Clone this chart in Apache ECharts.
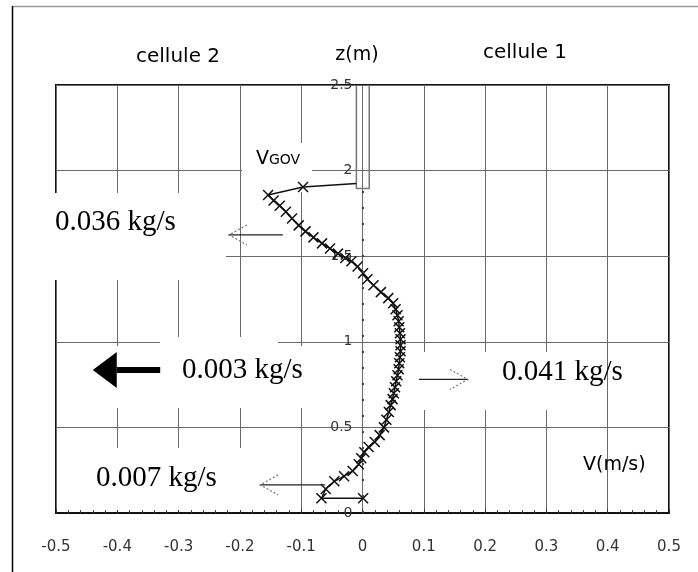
<!DOCTYPE html>
<html><head><meta charset="utf-8">
<script src="https://cdn.jsdelivr.net/npm/echarts@6/dist/echarts.min.js"></script>
<style>html,body{margin:0;padding:0;background:#fff}#c{width:698px;height:572px}</style>
</head><body><div id="c"></div>
<script>
// ---- data ----
// velocity profile V(m/s) at height z(m); first point joins the wall (no marker)
const curveV = [-0.010, -0.097, -0.154, -0.145, -0.135, -0.125, -0.115, -0.104, -0.093, -0.080, -0.066, -0.053, -0.040, -0.028, -0.018, -0.008, 0.001, 0.008, 0.018, 0.030, 0.042, 0.050, 0.054, 0.057, 0.059, 0.060, 0.061, 0.062, 0.062, 0.062, 0.061, 0.060, 0.059, 0.057, 0.055, 0.053, 0.051, 0.049, 0.046, 0.043, 0.039, 0.035, 0.028, 0.020, 0.010, 0.003, -0.002, -0.006, -0.016, -0.030, -0.046, -0.060, -0.067, 0.001];
const curveZ = [1.925, 1.904, 1.857, 1.825, 1.795, 1.760, 1.720, 1.680, 1.645, 1.610, 1.575, 1.545, 1.515, 1.490, 1.470, 1.440, 1.400, 1.365, 1.330, 1.290, 1.255, 1.225, 1.190, 1.155, 1.120, 1.085, 1.050, 1.015, 0.980, 0.945, 0.910, 0.875, 0.840, 0.805, 0.770, 0.735, 0.700, 0.665, 0.630, 0.590, 0.545, 0.500, 0.455, 0.415, 0.385, 0.355, 0.320, 0.285, 0.245, 0.215, 0.185, 0.140, 0.086, 0.086];
// wall between the two cells
const wallV = [-0.010, -0.010, 0.011, 0.011];
const wallZ = [2.5, 1.895, 1.895, 2.5];
// dotted reference line at V = 0
const refLineZ = [0, 1.89];
// mass flow annotations
const flowLabels = ['0.036 kg/s', '0.003 kg/s', '0.041 kg/s', '0.007 kg/s'];
const arrowTailV = [-0.130, -0.330, 0.092, -0.061];
const arrowTipV = [-0.218, -0.440, 0.172, -0.167];
const arrowZ = [1.624, 0.835, 0.780, 0.164];
const arrowBold = [0, 1, 0, 0];
// axes
const vMin = -0.5, vMax = 0.5, vStep = 0.1;
const zMin = 0, zMax = 2.5, zStep = 0.5;

// ---- chart ----
const chart = echarts.init(document.getElementById('c'), null, {renderer: 'canvas'});
const sans = 'DejaVu Sans';

const curveData = curveV.map((v, i) => i === 0 ? {value: [v, curveZ[i]], symbol: 'none'} : [v, curveZ[i]]);
const wallData = wallV.map((v, i) => [v, wallZ[i]]);
const arrowData = flowLabels.map((l, i) => [arrowTailV[i], arrowTipV[i], arrowZ[i], arrowBold[i]]);

const gridLeft = 56, gridRight = 29;
const plotW = 698 - gridLeft - gridRight;
const zeroOffset = -plotW * (0 - vMin) / (vMax - vMin);

const option = {
  animation: false,
  backgroundColor: '#fff',
  grid: {left: gridLeft, right: gridRight, top: 85, bottom: 59, show: true, borderColor: '#111', borderWidth: 2, backgroundColor: 'transparent'},
  xAxis: {
    type: 'value', min: vMin, max: vMax, interval: vStep,
    axisLine: {onZero: false, lineStyle: {color: '#111', width: 2}},
    axisTick: {show: true, inside: true, length: 4, lineStyle: {color: '#333'}},
    minorTick: {show: true, splitNumber: 5, length: 3, lineStyle: {color: '#444'}},
    axisLabel: {margin: 27, color: '#333', fontSize: 15, fontFamily: sans},
    splitLine: {show: true, lineStyle: {color: '#6a6a6a', width: 1}}
  },
  yAxis: {
    type: 'value', min: zMin, max: zMax, interval: zStep,
    position: 'left', offset: zeroOffset,
    axisLine: {show: false, onZero: false},
    axisTick: {show: false},
    axisLabel: {margin: 10, color: '#333', fontSize: 14, fontFamily: sans},
    splitLine: {show: true, lineStyle: {color: '#6a6a6a', width: 1}}
  },
  graphic: [
    {type: 'line', z: 1, shape: {x1: 12, y1: 6.5, x2: 698, y2: 6.5}, style: {stroke: '#999', lineWidth: 1.5}},
    {type: 'line', z: 1, shape: {x1: 12.5, y1: 6, x2: 12.5, y2: 572}, style: {stroke: '#000', lineWidth: 1.5}},
    // white patches under the pasted annotations
    {type: 'rect', z: 1, shape: {x: 242, y: 143, width: 88, height: 24}, style: {fill: '#fff'}},
    {type: 'rect', z: 1, shape: {x: 242, y: 167, width: 70, height: 25}, style: {fill: '#fff'}},
    {type: 'rect', z: 1, shape: {x: 40, y: 193, width: 186, height: 87}, style: {fill: '#fff'}},
    {type: 'rect', z: 1, shape: {x: 58, y: 346, width: 104, height: 62}, style: {fill: '#fff'}},
    {type: 'rect', z: 1, shape: {x: 160, y: 337, width: 118, height: 71}, style: {fill: '#fff'}},
    {type: 'rect', z: 1, shape: {x: 278, y: 346, width: 40, height: 62}, style: {fill: '#fff'}},
    {type: 'rect', z: 1, shape: {x: 414, y: 352, width: 190, height: 58}, style: {fill: '#fff'}},
    {type: 'rect', z: 1, shape: {x: 60, y: 448, width: 190, height: 62}, style: {fill: '#fff'}},
    // titles
    {type: 'text', z: 10, x: 178, y: 57, style: {text: 'cellule 2', font: '20px "DejaVu Sans"', fill: '#000', textAlign: 'center', textVerticalAlign: 'middle'}},
    {type: 'text', z: 10, x: 357, y: 55, style: {text: 'z(m)', font: '19px "DejaVu Sans"', fill: '#000', textAlign: 'center', textVerticalAlign: 'middle'}},
    {type: 'text', z: 10, x: 525, y: 53, style: {text: 'cellule 1', font: '20px "DejaVu Sans"', fill: '#000', textAlign: 'center', textVerticalAlign: 'middle'}},
    {type: 'text', z: 10, x: 583, y: 465, style: {text: 'V(m/s)', font: '19px "DejaVu Sans"', fill: '#000', textAlign: 'left', textVerticalAlign: 'middle'}},
    {type: 'text', z: 10, x: 256, y: 159, style: {text: '{a|V}{b|GOV}', textAlign: 'left', textVerticalAlign: 'middle',
      rich: {a: {fontSize: 19, fontFamily: sans, color: '#111'}, b: {fontSize: 14, fontFamily: sans, color: '#111', padding: [3, 0, 0, 0]}}}},
    // flow labels
    {type: 'text', z: 10, x: 55, y: 222, style: {text: flowLabels[0], font: '29px "Liberation Serif"', fill: '#000', textAlign: 'left', textVerticalAlign: 'middle'}},
    {type: 'text', z: 10, x: 182, y: 370, style: {text: flowLabels[1], font: '29px "Liberation Serif"', fill: '#000', textAlign: 'left', textVerticalAlign: 'middle'}},
    {type: 'text', z: 10, x: 502, y: 372, style: {text: flowLabels[2], font: '29px "Liberation Serif"', fill: '#000', textAlign: 'left', textVerticalAlign: 'middle'}},
    {type: 'text', z: 10, x: 96, y: 478, style: {text: flowLabels[3], font: '29px "Liberation Serif"', fill: '#000', textAlign: 'left', textVerticalAlign: 'middle'}}
  ],
  series: [
    {
      type: 'line', name: 'wall', data: wallData, showSymbol: false, symbol: 'none', z: 3,
      lineStyle: {color: '#777', width: 1.5}
    },
    {
      type: 'line', name: 'V', data: curveData, z: 4,
      symbol: 'path://M0,0L10,10M10,0L0,10', symbolSize: 10,
      itemStyle: {color: '#111', borderColor: '#111', borderWidth: 1.5},
      lineStyle: {color: '#111', width: 1.5},
      markLine: {
        silent: true, symbol: ['none', 'none'], label: {show: false},
        lineStyle: {color: '#444', type: [2, 14], width: 2},
        data: [[{coord: [0, refLineZ[0]]}, {coord: [0, refLineZ[1]]}]]
      }
    },
    {
      type: 'custom', name: 'flows', data: arrowData, z: 5,
      encode: {x: [0, 1], y: 2},
      renderItem: function (params, api) {
        const tail = api.coord([api.value(0), api.value(2)]);
        const tip = api.coord([api.value(1), api.value(2)]);
        const dir = tip[0] > tail[0] ? 1 : -1;
        const y = tip[1];
        if (api.value(3) === 1) {
          const hl = 24, hw = 18;
          return {type: 'group', children: [
            {type: 'line', shape: {x1: tail[0], y1: y, x2: tip[0] - dir * hl, y2: y}, style: {stroke: '#000', lineWidth: 6}},
            {type: 'polygon', shape: {points: [[tip[0], y], [tip[0] - dir * hl, y - hw], [tip[0] - dir * hl, y + hw]]}, style: {fill: '#000'}}
          ]};
        }
        const hl = 18, hw = 10;
        return {type: 'group', children: [
          {type: 'line', shape: {x1: tail[0], y1: y, x2: tip[0], y2: y}, style: {stroke: '#222', lineWidth: 1.3}},
          {type: 'polyline', shape: {points: [[tip[0] - dir * hl, y - hw], [tip[0], y], [tip[0] - dir * hl, y + hw]]}, style: {stroke: '#777', lineWidth: 1.2, lineDash: [2, 2], fill: null}}
        ]};
      }
    }
  ]
};
chart.setOption(option);
</script>
</body></html>
